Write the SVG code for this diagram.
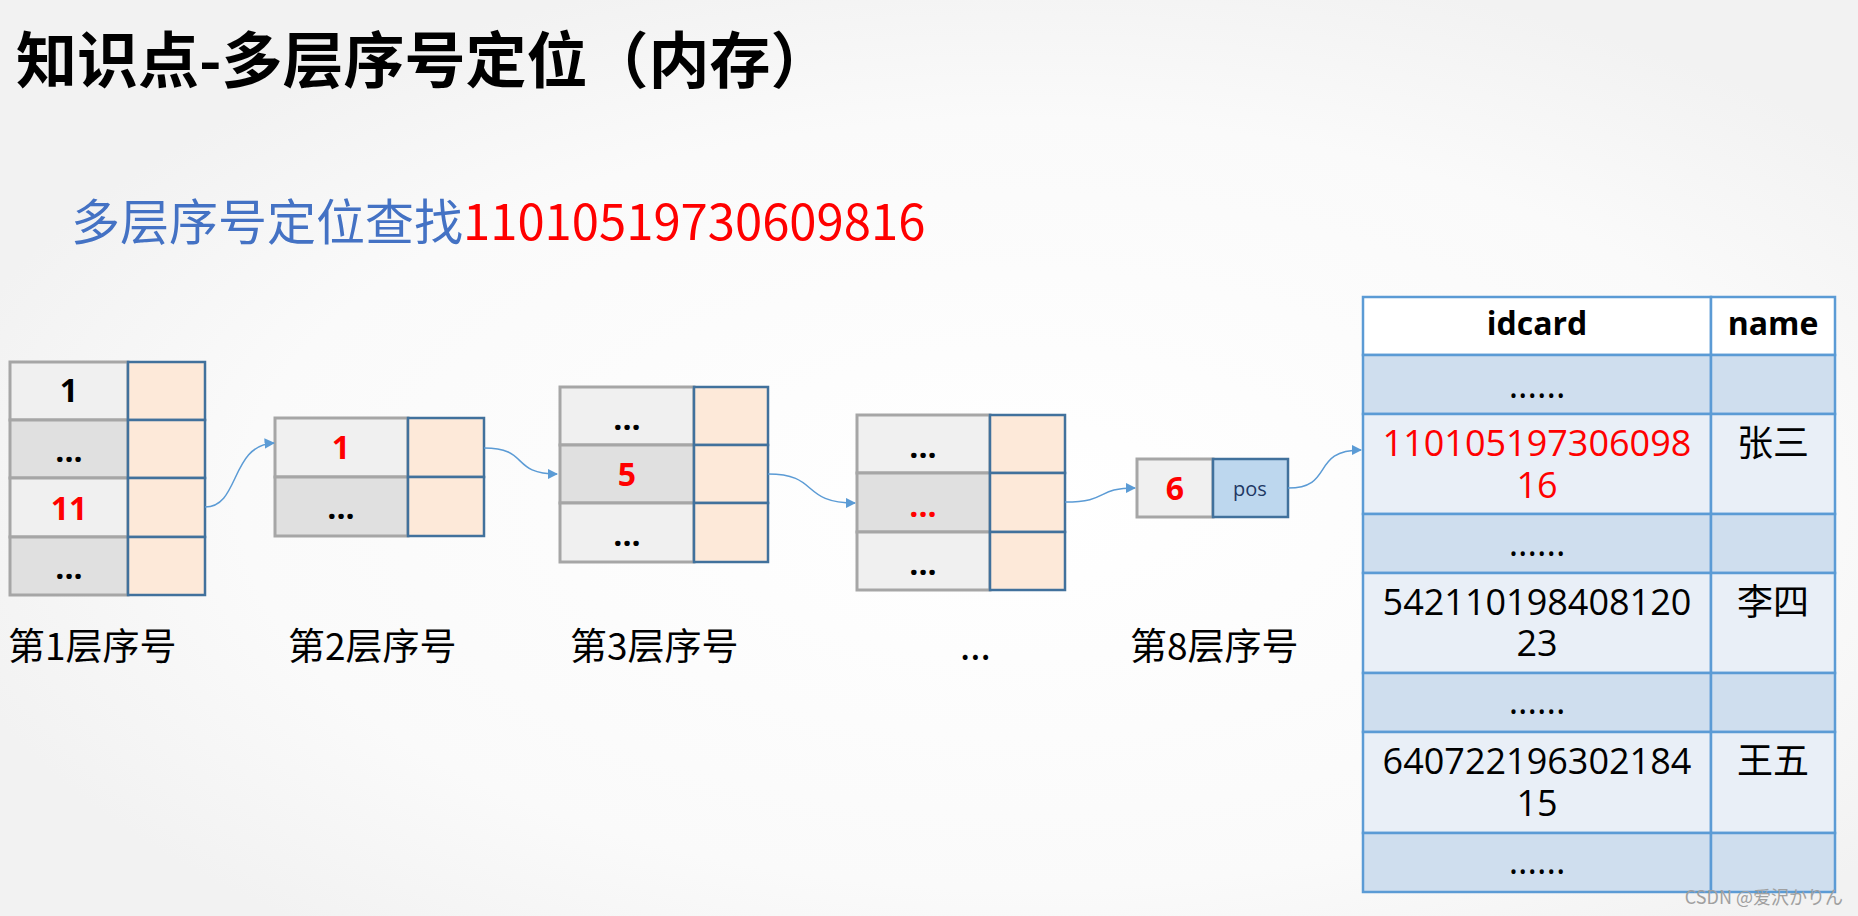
<svg xmlns="http://www.w3.org/2000/svg" width="1858" height="916" viewBox="0 0 1858 916">
<defs>
<radialGradient id="bg" cx="0.55" cy="0.55" r="0.6"><stop offset="0" stop-color="#ffffff"/><stop offset="0.7" stop-color="#fafafa"/><stop offset="1" stop-color="#f2f2f2"/></radialGradient>
<marker id="ah" viewBox="0 0 10 10" refX="9" refY="5" markerWidth="7" markerHeight="7" orient="auto"><path d="M0,0 L10,5 L0,10 z" fill="#5b9bd5"/></marker>
<style>
.l{fill:#f0f0f0;stroke:#a6a6a6;stroke-width:3}
.d{fill:#e0e0e0;stroke:#a6a6a6;stroke-width:3}
.o{fill:#fde9d9;stroke:#41719c;stroke-width:2.5}
.t{font-family:"Open Sans","Liberation Sans","Noto Sans CJK SC",sans-serif;font-weight:bold;font-size:32px;text-anchor:middle}
.k{fill:#000}
.lab{font-family:"Noto Sans CJK SC",sans-serif;font-size:37px;fill:#000}
.h{fill:#ffffff;stroke:#5b9bd5;stroke-width:2.5}
.a{fill:#cfdeee;stroke:#5b9bd5;stroke-width:2.5}
.b{fill:#e9eff7;stroke:#5b9bd5;stroke-width:2.5}
.c{font-family:"Open Sans","Noto Sans CJK SC",sans-serif;font-size:36px;text-anchor:middle;fill:#000}
.hd{font-family:"Open Sans","Liberation Sans",sans-serif;font-weight:bold;font-size:32px;text-anchor:middle}
.e{fill:none;stroke:#5b9bd5;stroke-width:1.5;marker-end:url(#ah)}
text.r{fill:#ff0000}
</style>
</defs>
<rect width="1858" height="916" fill="url(#bg)"/>
<text x="16" y="83" font-family="Noto Sans CJK SC,sans-serif" font-weight="bold" font-size="61" fill="#000">知识点-多层序号定位（内存）</text>
<text x="71" y="240" font-family="Noto Sans CJK SC,sans-serif" font-size="49"><tspan fill="#4472c4">多层序号定位查找</tspan><tspan fill="#ff0000">11010519730609816</tspan></text>

<g id="layer1">
<rect class="l" x="10" y="362" width="118" height="58"/><rect class="d" x="10" y="420" width="118" height="58"/><rect class="l" x="10" y="478" width="118" height="59"/><rect class="d" x="10" y="537" width="118" height="58"/>
<rect class="o" x="128" y="362" width="77" height="58"/><rect class="o" x="128" y="420" width="77" height="58"/><rect class="o" x="128" y="478" width="77" height="59"/><rect class="o" x="128" y="537" width="77" height="58"/>
<text class="t k" x="69" y="402">1</text><text class="t k" x="69" y="462">...</text><text class="t r" x="69" y="520">11</text><text class="t k" x="69" y="579">...</text>
</g>
<g id="layer2">
<rect class="l" x="275" y="418" width="133" height="59"/><rect class="d" x="275" y="477" width="133" height="59"/>
<rect class="o" x="408" y="418" width="76" height="59"/><rect class="o" x="408" y="477" width="76" height="59"/>
<text class="t r" x="341" y="459">1</text><text class="t k" x="341" y="519">...</text>
</g>
<g id="layer3">
<rect class="l" x="560" y="387" width="134" height="58"/><rect class="d" x="560" y="445" width="134" height="58"/><rect class="l" x="560" y="503" width="134" height="59"/>
<rect class="o" x="694" y="387" width="74" height="58"/><rect class="o" x="694" y="445" width="74" height="58"/><rect class="o" x="694" y="503" width="74" height="59"/>
<text class="t k" x="627" y="430">...</text><text class="t r" x="627" y="486">5</text><text class="t k" x="627" y="546">...</text>
</g>
<g id="layer4">
<rect class="l" x="857" y="415" width="133" height="58"/><rect class="d" x="857" y="473" width="133" height="59"/><rect class="l" x="857" y="532" width="133" height="58"/>
<rect class="o" x="990" y="415" width="75" height="58"/><rect class="o" x="990" y="473" width="75" height="59"/><rect class="o" x="990" y="532" width="75" height="58"/>
<text class="t k" x="923" y="458">...</text><text class="t r" x="923" y="517">...</text><text class="t k" x="923" y="575">...</text>
</g>
<g id="layer8">
<rect class="l" x="1137" y="459" width="76" height="58"/>
<rect x="1213" y="459" width="75" height="58" fill="#bdd7ee" stroke="#41719c" stroke-width="2.5"/>
<text class="t r" x="1175" y="500">6</text>
<text x="1250" y="496" font-family="Open Sans,sans-serif" font-size="20" text-anchor="middle" fill="#1f3864">pos</text>
</g>
<g id="labels">
<text class="lab" x="8" y="660">第1层序号</text>
<text class="lab" x="288" y="660">第2层序号</text>
<text class="lab" x="570" y="660">第3层序号</text>
<text class="lab" x="960" y="660">...</text>
<text class="lab" x="1130" y="660">第8层序号</text>
</g>
<g id="table">
<rect class="h" x="1363" y="297" width="348" height="58"/><rect class="h" x="1711" y="297" width="124" height="58"/>
<rect class="a" x="1363" y="355" width="348" height="59"/><rect class="a" x="1711" y="355" width="124" height="59"/>
<rect class="b" x="1363" y="414" width="348" height="100"/><rect class="b" x="1711" y="414" width="124" height="100"/>
<rect class="a" x="1363" y="514" width="348" height="59"/><rect class="a" x="1711" y="514" width="124" height="59"/>
<rect class="b" x="1363" y="573" width="348" height="100"/><rect class="b" x="1711" y="573" width="124" height="100"/>
<rect class="a" x="1363" y="673" width="348" height="59"/><rect class="a" x="1711" y="673" width="124" height="59"/>
<rect class="b" x="1363" y="732" width="348" height="101"/><rect class="b" x="1711" y="732" width="124" height="101"/>
<rect class="a" x="1363" y="833" width="348" height="59"/><rect class="a" x="1711" y="833" width="124" height="59"/>
<text class="hd" x="1537" y="335">idcard</text><text class="hd" x="1773" y="335">name</text>
<text class="c" x="1537" y="398">......</text>
<text class="c r" x="1537" y="456">110105197306098</text><text class="c r" x="1537" y="498">16</text><text class="c" x="1773" y="456">张三</text>
<text class="c" x="1537" y="556">......</text>
<text class="c" x="1537" y="615">542110198408120</text><text class="c" x="1537" y="656">23</text><text class="c" x="1773" y="615">李四</text>
<text class="c" x="1537" y="714">......</text>
<text class="c" x="1537" y="774">640722196302184</text><text class="c" x="1537" y="816">15</text><text class="c" x="1773" y="774">王五</text>
<text class="c" x="1537" y="874">......</text>
</g>
<g id="connectors">
<path class="e" d="M205,507 C240,507 230,445 274,443"/>
<path class="e" d="M484,448 C530,448 510,474 557,474"/>
<path class="e" d="M768,474 C820,474 800,503 855,503"/>
<path class="e" d="M1065,502 C1110,502 1095,488 1135,488"/>
<path class="e" d="M1288,488 C1335,488 1310,450 1361,450"/>
</g>
<text x="1843" y="904" font-family="Noto Sans CJK JP,sans-serif" font-size="18" fill="#a0a0a0" text-anchor="end">CSDN @爱沢かりん</text>
</svg>
